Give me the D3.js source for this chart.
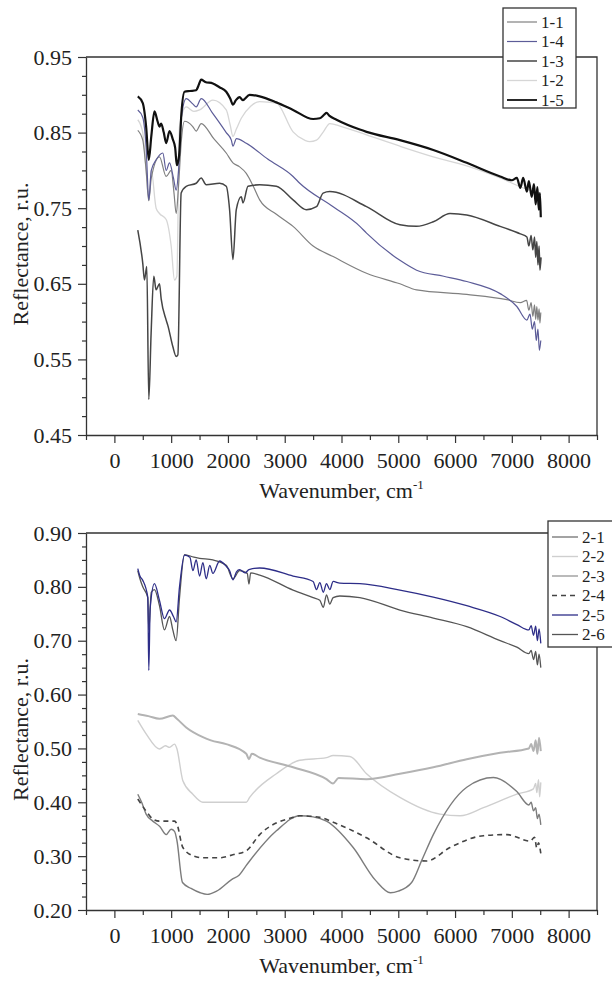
<!DOCTYPE html>
<html>
<head>
<meta charset="utf-8">
<script src="https://cdn.jsdelivr.net/npm/d3@7"></script>
<style>body{margin:0;background:#fff}</style>
</head>
<body>
<div id="main"></div>
<script>
// [wavenumber (cm-1), reflectance] pairs
var s1_1 = [[412,0.853],[500,0.84],[559,0.80],[606,0.76],[650,0.79],[794,0.818],[912,0.792],[1000,0.80],[1050,0.77],[1088,0.743],[1130,0.78],[1180,0.84],[1235,0.865],[1380,0.858],[1441,0.852],[1529,0.862],[1750,0.842],[1970,0.823],[2088,0.81],[2200,0.805],[2323,0.796],[2440,0.78],[2559,0.761],[2853,0.742],[3147,0.726],[3500,0.70],[3853,0.686],[4441,0.664],[5029,0.65],[5323,0.642],[6206,0.636],[6912,0.629],[7150,0.625],[7260,0.628],[7300,0.615],[7340,0.625],[7370,0.607],[7400,0.622],[7420,0.603],[7440,0.62],[7460,0.602],[7480,0.617],[7495,0.598],[7510,0.612]];
var s1_4 = [[412,0.88],[500,0.87],[559,0.83],[606,0.761],[650,0.80],[735,0.814],[853,0.823],[912,0.80],[971,0.81],[1040,0.79],[1088,0.774],[1130,0.80],[1180,0.87],[1265,0.895],[1380,0.888],[1441,0.884],[1529,0.895],[1735,0.875],[1970,0.85],[2060,0.84],[2088,0.832],[2150,0.842],[2323,0.836],[2700,0.815],[3147,0.792],[3265,0.783],[3853,0.752],[4323,0.726],[4441,0.717],[5029,0.681],[5323,0.668],[5800,0.66],[6206,0.653],[6794,0.637],[7088,0.62],[7265,0.602],[7320,0.61],[7360,0.59],[7400,0.60],[7430,0.575],[7460,0.59],[7485,0.562],[7510,0.575]];
var s1_3 = [[412,0.721],[500,0.677],[529,0.655],[571,0.673],[606,0.497],[647,0.585],[694,0.66],[735,0.642],[794,0.65],[824,0.63],[912,0.602],[941,0.595],[1029,0.567],[1088,0.554],[1118,0.556],[1176,0.77],[1265,0.779],[1441,0.783],[1529,0.79],[1617,0.781],[1853,0.783],[1970,0.779],[2029,0.748],[2088,0.682],[2147,0.748],[2235,0.765],[2265,0.757],[2353,0.779],[2559,0.781],[2853,0.779],[3147,0.761],[3382,0.748],[3559,0.752],[3676,0.77],[3794,0.772],[4441,0.752],[5029,0.728],[5323,0.726],[5617,0.732],[5911,0.743],[6206,0.741],[6794,0.726],[7150,0.716],[7265,0.712],[7300,0.70],[7340,0.714],[7370,0.695],[7400,0.712],[7420,0.685],[7440,0.706],[7460,0.675],[7480,0.70],[7495,0.668],[7515,0.685]];
var s1_2 = [[412,0.867],[500,0.85],[559,0.80],[606,0.76],[650,0.80],[735,0.75],[794,0.743],[912,0.735],[1000,0.70],[1059,0.655],[1100,0.66],[1147,0.858],[1265,0.884],[1400,0.878],[1500,0.88],[1735,0.893],[1970,0.88],[2040,0.86],[2088,0.845],[2150,0.855],[2235,0.869],[2400,0.885],[2559,0.891],[2853,0.889],[3147,0.851],[3350,0.84],[3441,0.838],[3560,0.84],[3680,0.851],[3794,0.862],[4000,0.858],[4441,0.847],[5029,0.832],[5617,0.818],[6206,0.806],[6794,0.79],[7265,0.775],[7500,0.77]];
var s1_5 = [[412,0.898],[500,0.889],[559,0.858],[606,0.814],[650,0.845],[706,0.878],[760,0.865],[794,0.858],[824,0.862],[870,0.85],[912,0.836],[971,0.852],[1029,0.841],[1070,0.83],[1100,0.807],[1140,0.82],[1180,0.875],[1235,0.904],[1330,0.905],[1441,0.906],[1480,0.912],[1529,0.92],[1600,0.917],[1735,0.915],[1850,0.91],[1970,0.904],[2040,0.895],[2088,0.887],[2140,0.893],[2206,0.897],[2260,0.893],[2382,0.90],[2559,0.898],[2853,0.89],[3147,0.88],[3500,0.868],[3618,0.869],[3700,0.874],[3735,0.876],[3790,0.872],[3912,0.867],[4323,0.854],[4441,0.851],[5029,0.84],[5617,0.827],[6206,0.81],[6794,0.792],[7000,0.787],[7088,0.79],[7150,0.777],[7200,0.79],[7265,0.772],[7300,0.786],[7350,0.765],[7390,0.782],[7420,0.755],[7450,0.778],[7475,0.748],[7495,0.77],[7510,0.738]];

var s2_1 = [[412,0.415],[480,0.40],[559,0.378],[676,0.365],[800,0.355],[912,0.34],[1000,0.35],[1059,0.346],[1100,0.33],[1200,0.251],[1350,0.24],[1512,0.232],[1636,0.229],[1800,0.235],[2070,0.257],[2200,0.265],[2317,0.282],[2382,0.291],[2853,0.347],[3265,0.375],[3500,0.373],[3735,0.365],[4206,0.316],[4600,0.255],[4862,0.232],[5000,0.235],[5235,0.251],[5417,0.293],[5617,0.34],[6206,0.428],[6676,0.446],[7088,0.42],[7300,0.395],[7340,0.40],[7382,0.384],[7420,0.39],[7450,0.37],[7480,0.378],[7510,0.358]];
var s2_2 = [[412,0.552],[559,0.527],[794,0.499],[900,0.505],[971,0.502],[1059,0.508],[1100,0.50],[1206,0.44],[1382,0.415],[1559,0.40],[1970,0.40],[2323,0.40],[2382,0.409],[2853,0.453],[3265,0.478],[3735,0.483],[3853,0.487],[4147,0.485],[4441,0.453],[5029,0.409],[5735,0.378],[6088,0.375],[6500,0.39],[7088,0.415],[7380,0.425],[7420,0.435],[7440,0.418],[7470,0.442],[7490,0.41],[7510,0.437]];
var s2_3 = [[412,0.564],[600,0.56],[794,0.555],[1029,0.561],[1100,0.555],[1265,0.539],[1559,0.521],[1700,0.515],[1970,0.508],[2323,0.49],[2370,0.48],[2420,0.49],[2559,0.483],[3147,0.465],[3735,0.443],[3850,0.435],[3950,0.445],[4441,0.443],[5029,0.453],[5617,0.465],[6206,0.48],[6794,0.492],[7300,0.5],[7340,0.508],[7382,0.495],[7420,0.515],[7450,0.49],[7480,0.52],[7510,0.495]];
var s2_4 = [[412,0.406],[550,0.385],[676,0.369],[794,0.365],[1059,0.365],[1100,0.36],[1206,0.316],[1400,0.30],[1559,0.297],[1853,0.297],[2100,0.303],[2323,0.31],[2559,0.34],[3147,0.372],[3265,0.375],[3618,0.372],[3853,0.363],[4441,0.334],[5029,0.297],[5500,0.291],[5911,0.316],[6500,0.338],[6912,0.34],[7323,0.328],[7400,0.335],[7440,0.315],[7470,0.325],[7510,0.305]];
var s2_5 = [[412,0.834],[450,0.82],[500,0.812],[588,0.781],[606,0.645],[630,0.76],[706,0.806],[794,0.775],[882,0.741],[971,0.757],[1040,0.745],[1088,0.735],[1147,0.80],[1235,0.859],[1330,0.855],[1382,0.83],[1441,0.85],[1500,0.82],[1559,0.845],[1617,0.815],[1680,0.84],[1735,0.825],[1853,0.848],[1970,0.838],[2030,0.83],[2088,0.813],[2150,0.828],[2206,0.832],[2300,0.826],[2370,0.832],[2559,0.835],[3147,0.82],[3500,0.81],[3560,0.795],[3618,0.808],[3680,0.79],[3735,0.806],[3794,0.795],[3853,0.81],[3970,0.807],[4323,0.806],[5029,0.794],[5617,0.781],[6206,0.765],[6794,0.745],[7088,0.73],[7300,0.72],[7340,0.728],[7382,0.71],[7420,0.727],[7450,0.70],[7480,0.722],[7510,0.695]];
var s2_6 = [[412,0.83],[450,0.815],[500,0.80],[588,0.78],[606,0.72],[650,0.79],[706,0.795],[794,0.765],[882,0.72],[971,0.745],[1029,0.72],[1088,0.70],[1147,0.78],[1235,0.86],[1400,0.855],[1500,0.853],[1735,0.85],[1970,0.84],[2088,0.815],[2206,0.83],[2340,0.825],[2370,0.805],[2400,0.826],[2559,0.822],[3147,0.794],[3500,0.78],[3618,0.775],[3680,0.762],[3735,0.785],[3794,0.768],[3853,0.78],[3970,0.783],[4323,0.78],[5029,0.757],[5617,0.742],[6206,0.726],[6794,0.70],[7088,0.688],[7300,0.676],[7340,0.682],[7382,0.665],[7420,0.68],[7450,0.655],[7480,0.675],[7510,0.65]];

var topNames = ["1-1", "1-4", "1-3", "1-2", "1-5"];
var topSeries = [s1_1, s1_4, s1_3, s1_2, s1_5];
var botNames = ["2-1", "2-2", "2-3", "2-4", "2-5", "2-6"];
var botSeries = [s2_1, s2_2, s2_3, s2_4, s2_5, s2_6];

var xTicks = [0, 1000, 2000, 3000, 4000, 5000, 6000, 7000, 8000];
var topYTicks = [0.45, 0.55, 0.65, 0.75, 0.85, 0.95];
var botYTicks = [0.20, 0.30, 0.40, 0.50, 0.60, 0.70, 0.80, 0.90];

// line styles per series
var styles = {
  "1-1": {c: "#808080", w: 1.2},
  "1-4": {c: "#5c5c98", w: 1.2},
  "1-3": {c: "#454545", w: 1.5},
  "1-2": {c: "#d6d6d6", w: 1.3},
  "1-5": {c: "#111111", w: 2.2},
  "2-1": {c: "#7c7c7c", w: 1.4},
  "2-2": {c: "#cfcfcf", w: 1.4},
  "2-3": {c: "#b3b3b3", w: 2},
  "2-4": {c: "#444444", w: 1.6, dash: "5,4"},
  "2-5": {c: "#2d2d88", w: 1.3},
  "2-6": {c: "#555555", w: 1.3}
};
var serif = "Liberation Serif, Times New Roman, Times, serif";

var svg = d3.select("#main").append("svg")
    .attr("width", 612)
    .attr("height", 983);

var x = d3.scaleLinear().domain([-500, 8500]).range([86, 597]);

function panel(opt) {
  var y = d3.scaleLinear().domain(opt.yDomain).range(opt.yRange);
  var g = svg.append("g");
  var line = d3.line()
      .x(function(d) { return x(d[0]); })
      .y(function(d) { return y(d[1]); })
      .curve(d3.curveMonotoneX);

  // curves, light ones first
  opt.drawOrder.forEach(function(name) {
    var s = styles[name];
    g.append("path")
      .attr("d", line(opt.series[opt.names.indexOf(name)]))
      .attr("fill", "none")
      .attr("stroke", s.c)
      .attr("stroke-width", s.w)
      .attr("stroke-dasharray", s.dash || null)
      .attr("stroke-linejoin", "round");
  });

  var yTop = y.range()[1], yBot = y.range()[0];
  var xL = x.range()[0], xR = x.range()[1];

  // frame: top and right edges
  g.append("path")
    .attr("d", "M" + xL + "," + yTop + "H" + xR + "V" + yBot)
    .attr("fill", "none").attr("stroke", "#333").attr("stroke-width", 1.3);

  // x axis
  var minorX = d3.range(-500, 8501, 500).filter(function(v) { return v % 1000 !== 0; });
  g.append("g").attr("transform", "translate(0," + yBot + ")")
    .call(d3.axisBottom(x).tickValues(minorX).tickSize(5).tickSizeOuter(0).tickFormat(""))
    .call(function(a) { a.select(".domain").remove(); })
    .selectAll("line").attr("stroke", "#333").attr("stroke-width", 1.2);
  var xa = g.append("g").attr("transform", "translate(0," + yBot + ")")
    .call(d3.axisBottom(x).tickValues(xTicks).tickSize(8).tickSizeOuter(0).tickPadding(9)
      .tickFormat(d3.format("d")));
  xa.select(".domain").attr("stroke", "#333").attr("stroke-width", 1.3);
  xa.selectAll("line").attr("stroke", "#333").attr("stroke-width", 1.2);
  xa.selectAll("text").attr("font-family", serif).attr("font-size", 22).attr("fill", "#222");

  // y axis
  var step = opt.yTicks[1] - opt.yTicks[0];
  var minorY = [];
  opt.yTicks.slice(0, -1).forEach(function(v) {
    for (var k = 1; k < 4; ++k) minorY.push(v + k * step / 4);
  });
  g.append("g").attr("transform", "translate(" + xL + ",0)")
    .call(d3.axisLeft(y).tickValues(minorY).tickSize(4).tickSizeOuter(0).tickFormat(""))
    .call(function(a) { a.select(".domain").remove(); })
    .selectAll("line").attr("stroke", "#333").attr("stroke-width", 1.2);
  var ya = g.append("g").attr("transform", "translate(" + xL + ",0)")
    .call(d3.axisLeft(y).tickValues(opt.yTicks).tickSize(8).tickSizeOuter(0).tickPadding(6)
      .tickFormat(d3.format(".2f")));
  ya.select(".domain").attr("stroke", "#333").attr("stroke-width", 1.3);
  ya.selectAll("line").attr("stroke", "#333").attr("stroke-width", 1.2);
  ya.selectAll("text").attr("font-family", serif).attr("font-size", 22).attr("fill", "#222");

  // axis titles
  var xt = g.append("text")
    .attr("x", (xL + xR) / 2).attr("y", yBot + 63)
    .attr("text-anchor", "middle")
    .attr("font-family", serif).attr("font-size", 22).attr("fill", "#222")
    .text("Wavenumber, cm");
  xt.append("tspan").attr("dy", -9).attr("font-size", 13).text("-1");

  g.append("text")
    .attr("transform", "translate(28," + ((yTop + yBot) / 2 + 8) + ") rotate(-90)")
    .attr("text-anchor", "middle")
    .attr("font-family", serif).attr("font-size", 22).attr("fill", "#222")
    .text("Reflectance, r.u.");

  // legend
  var lg = g.append("g").attr("transform", "translate(" + opt.legend.x + "," + opt.legend.y + ")");
  lg.append("rect")
    .attr("width", opt.legend.w).attr("height", opt.legend.h)
    .attr("fill", "#fff").attr("stroke", "#333").attr("stroke-width", 1.3);
  opt.names.forEach(function(name, i) {
    var s = styles[name];
    var cy = opt.legend.top + i * opt.legend.row;
    lg.append("line")
      .attr("x1", 4).attr("x2", opt.legend.lineW + 4)
      .attr("y1", cy).attr("y2", cy)
      .attr("stroke", s.c).attr("stroke-width", Math.min(s.w, 1.8))
      .attr("stroke-dasharray", s.dash || null);
    lg.append("text")
      .attr("x", opt.legend.lineW + 8).attr("y", cy)
      .attr("dy", "0.35em")
      .attr("font-family", serif).attr("font-size", opt.legend.font).attr("fill", "#222")
      .text(name);
  });
}

panel({
  yDomain: [0.45, 0.95], yRange: [435, 57], yTicks: topYTicks,
  names: topNames, series: topSeries,
  drawOrder: ["1-2", "1-1", "1-4", "1-3", "1-5"],
  legend: {x: 503, y: 8, w: 73, h: 100, top: 14, row: 19.5, lineW: 30, font: 17}
});

panel({
  yDomain: [0.20, 0.90], yRange: [910, 533], yTicks: botYTicks,
  names: botNames, series: botSeries,
  drawOrder: ["2-2", "2-3", "2-1", "2-4", "2-6", "2-5"],
  legend: {x: 548, y: 521, w: 80, h: 126, top: 16, row: 19.5, lineW: 26, font: 17}
});
</script>
</body>
</html>
